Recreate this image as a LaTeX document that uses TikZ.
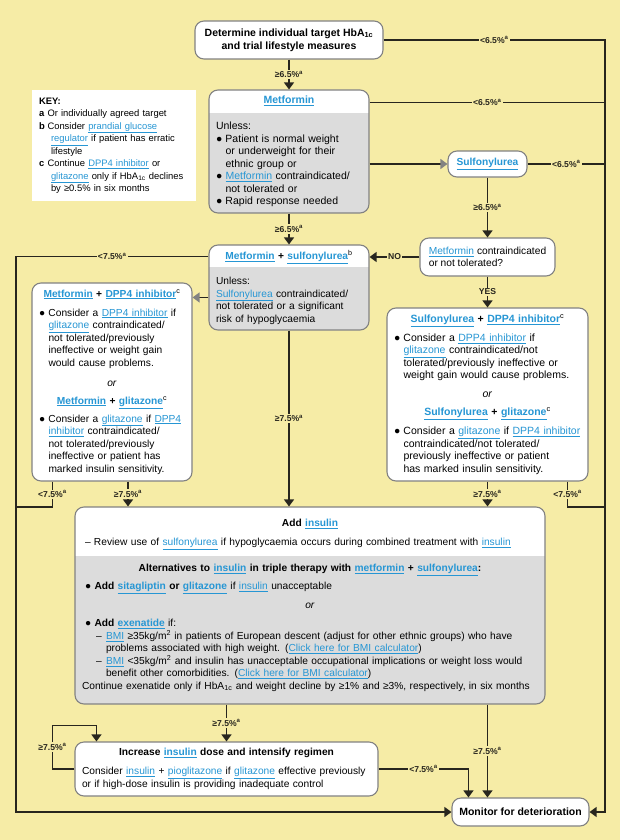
\documentclass[tikz,border=0pt]{standalone}
\usepackage{fontspec}
\setmainfont{Liberation Sans}
\usepackage{tikz}
\usetikzlibrary{shapes,backgrounds,arrows.meta,positioning}
\pgfdeclarelayer{background}
\pgfdeclarelayer{foreground}
\pgfsetlayers{background,main,foreground}
\definecolor{bg}{RGB}{246,236,166}
\definecolor{boxgray}{RGB}{220,220,220}
\definecolor{boxedge}{RGB}{130,130,130}
\definecolor{linkblue}{RGB}{38,150,212}
\definecolor{wire}{RGB}{40,38,30}
\newcommand{\bodyfont}{\fontsize{10.2}{12.5}\selectfont}
\newcommand{\boxfont}{\fontsize{10.5}{12.5}\selectfont}
\newcommand{\keyfont}{\fontsize{9.4}{12.5}\selectfont}
\newcommand{\headfont}{\bfseries\fontsize{10.5}{13}\selectfont}
\newcommand{\lblfont}{\bfseries\fontsize{8.6}{10}\selectfont}
\newcommand{\lnk}[1]{\textcolor{linkblue}{\underline{#1}}}
\newcommand{\bul}{\makebox[9.5pt][l]{●}}
\newcommand{\ind}{\hspace*{9.5pt}}
\newcommand{\keyl}[1]{\makebox[8.5pt][l]{\textbf{#1}}}
\newcommand{\gev}[1]{≥#1\%\textsuperscript{a}}
\newcommand{\ltv}[1]{<#1\%\textsuperscript{a}}
\tikzstyle{plainbox} = [draw=boxedge, line width=1.1pt, fill=white, rounded corners=9pt, inner xsep=7pt, inner ysep=3pt, align=left, font=\bodyfont]
\tikzstyle{keybox} = [fill=white, inner xsep=7pt, inner ysep=3pt, align=left, font=\keyfont]
\tikzstyle{lbl} = [fill=bg, inner sep=1.2pt, font=\lblfont]
\tikzstyle{arrow} = [draw, line width=1.2pt, color=wire, -{Triangle[width=10pt,length=7pt]}]
\tikzstyle{grayarrow} = [draw, line width=1.2pt, color=wire, -{Triangle[width=10pt,length=7pt,color=boxedge]}]
\tikzstyle{line} = [draw, line width=1.2pt, color=wire]
\tikzset{graybody/.style={path picture={\fill[boxgray,sharp corners] ([yshift=-#1]path picture bounding box.north west) rectangle (path picture bounding box.south east);}}}
\newcommand{\plainbox}[3]{node (#1) [plainbox,#2] {#3}}
\newcommand{\shadedbox}[4]{node (#1) [plainbox,graybody=#2,#3] {#4}}

\begin{document}
\begin{tikzpicture}[x=1pt,y=-1pt]
\useasboundingbox (0,0) rectangle (620,840);
\path (289,40) \plainbox{top}{font=\headfont, align=center, minimum width=188pt, minimum height=38pt}{Determine individual target HbA\textsubscript{1c}\\and trial lifestyle measures};
\path (top)+(0,111.5) \shadedbox{met}{23pt}{font=\boxfont, text width=146pt, minimum height=123pt}{%
{\centering\textbf{\lnk{Metformin}}\par}\vspace{13.5pt}
Unless:\\
\bul Patient is normal weight\\
\ind or underweight for their\\
\ind ethnic group or\\
\bul \lnk{Metformin} contraindicated/\\
\ind not tolerated or\\
\bul Rapid response needed};
\path (met)+(-175,-6) node (key) [keybox, text width=150pt, minimum height=111pt] {%
\textbf{KEY:}\\
\keyl{a}Or individually agreed target\\
\keyl{b}Consider \lnk{prandial glucose}\\
\hspace*{12pt}\lnk{regulator} if patient has erratic\\
\hspace*{12pt}lifestyle\\
\keyl{c}Continue \lnk{DPP4 inhibitor} or\\
\hspace*{12pt}\lnk{glitazone} only if HbA\textsubscript{1c} declines\\
\hspace*{12pt}by ≥0.5\% in six months};
\path (met)+(198.5,12.5) \plainbox{sul}{font=\bodyfont\bfseries, minimum width=79pt, minimum height=26pt}{\lnk{Sulfonylurea}};
\path (sul)+(0,93) \plainbox{q}{minimum width=135pt, minimum height=38pt}{\lnk{Metformin} contraindicated\\or not tolerated?};

\path (met)+(0,136) \shadedbox{ms}{22pt}{text width=146pt, minimum height=85pt}{%
{\centering\textbf{\lnk{Metformin} + \lnk{sulfonylurea}}\textsuperscript{b}\par}\vspace{12.5pt}
Unless:\\
\lnk{Sulfonylurea} contraindicated/\\
not tolerated or a significant\\
risk of hypoglycaemia};
\path (ms)+(-177,94.5) \plainbox{lb}{text width=146pt, minimum height=198pt}{%
{\centering\textbf{\lnk{Metformin} + \lnk{DPP4 inhibitor}}\textsuperscript{c}\par}\vspace{6.5pt}
\bul Consider a \lnk{DPP4 inhibitor} if\\
\ind\lnk{glitazone} contraindicated/\\
\ind not tolerated/previously\\
\ind ineffective or weight gain\\
\ind would cause problems.\par\vspace{7.5pt}
{\centering\textit{or}\par}\vspace{5.5pt}
{\centering\textbf{\lnk{Metformin} + \lnk{glitazone}}\textsuperscript{c}\par}\vspace{5.5pt}
\bul Consider a \lnk{glitazone} if \lnk{DPP4}\\
\ind\lnk{inhibitor} contraindicated/\\
\ind not tolerated/previously\\
\ind ineffective or patient has\\
\ind marked insulin sensitivity.};
\path (q)+(0,137.5) \plainbox{rb}{font=\boxfont, text width=187pt, minimum height=173pt}{%
{\centering\textbf{\lnk{Sulfonylurea} + \lnk{DPP4 inhibitor}}\textsuperscript{c}\par}\vspace{6.5pt}
\bul Consider a \lnk{DPP4 inhibitor} if\\
\ind\lnk{glitazone} contraindicated/not\\
\ind tolerated/previously ineffective or\\
\ind weight gain would cause problems.\par\vspace{6.5pt}
{\centering\textit{or}\par}\vspace{5.5pt}
{\centering\textbf{\lnk{Sulfonylurea} + \lnk{glitazone}}\textsuperscript{c}\par}\vspace{6.5pt}
\bul Consider a \lnk{glitazone} if \lnk{DPP4 inhibitor}\\
\ind contraindicated/not tolerated/\\
\ind previously ineffective or patient\\
\ind has marked insulin sensitivity.};

\path (ms)+(21,318) \shadedbox{ai}{49pt}{text width=456pt, minimum height=197pt}{%
{\centering\textbf{Add \lnk{insulin}}\par}\vspace{6.5pt}
\hspace*{3pt}\makebox[9pt][l]{–}Review use of \lnk{sulfonylurea} if hypoglycaemia occurs during combined treatment with \lnk{insulin}\par\vspace{13.5pt}
{\centering\textbf{Alternatives to \lnk{insulin} in triple therapy with \lnk{metformin} + \lnk{sulfonylurea}:}\par}\vspace{5.5pt}
\hspace*{3pt}\bul\textbf{Add \lnk{sitagliptin} or \lnk{glitazone}} if \lnk{insulin} unacceptable\par\vspace{6.5pt}
{\centering\textit{or}\par}\vspace{5.5pt}
\hspace*{3pt}\bul\textbf{Add \lnk{exenatide}} if:\\
\hspace*{14pt}\makebox[10pt][l]{–}\lnk{BMI} ≥35kg/m\textsuperscript{2} in patients of European descent (adjust for other ethnic groups) who have\\
\hspace*{24pt}problems associated with high weight. (\lnk{Click here for BMI calculator})\\
\hspace*{14pt}\makebox[10pt][l]{–}\lnk{BMI} <35kg/m\textsuperscript{2} and insulin has unacceptable occupational implications or weight loss would\\
\hspace*{24pt}benefit other comorbidities. (\lnk{Click here for BMI calculator})\\
Continue exenatide only if HbA\textsubscript{1c} and weight decline by ≥1\% and ≥3\%, respectively, in six months};
\path (ai)+(-83.5,163.5) \plainbox{inc}{text width=289pt, minimum height=54pt}{%
{\centering\textbf{Increase \lnk{insulin} dose and intensify regimen}\par}\vspace{6.5pt}
Consider \lnk{insulin} + \lnk{pioglitazone} if \lnk{glitazone} effective previously\\
or if high-dose insulin is providing inadequate control};
\path (inc)+(294,43) \plainbox{mon}{font=\headfont, minimum width=137pt, minimum height=28pt}{Monitor for deterioration};

\coordinate (rr) at (605,507);
\coordinate (ll) at (16,507);
\path (met.north east)+(0,13) coordinate (m1);
\path (ms.north west)+(0,12) coordinate (s1);
\path (ms.north west)+(0,53) coordinate (s2);
\path (lb.south west)+(21,0) coordinate (b1);
\path (lb.south)+(16,0) coordinate (b2);
\path (rb.south east)+(-21,0) coordinate (b3);
\path (inc.north west)+(-22,-16) coordinate (lp);
\path (inc.north west)+(22,0) coordinate (i1);
\path (mon.north west)+(17,0) coordinate (m4);
\path (mon.north west)+(36,0) coordinate (m5);

\path [arrow] (top.south) -- node[lbl] (l1) {\gev{6.5}} (met.north);
\path [arrow] (top.east) -- node[lbl] (l2) {\ltv{6.5}} (top.east -| rr) |- (mon.east);
\path [line] (m1) -- node[lbl] (l3) {\ltv{6.5}} (m1 -| rr);
\path [grayarrow] (met.east |- sul.west) -- (sul.west);
\path [line] (sul.east) -- node[lbl] (l4) {\ltv{6.5}} (sul.east -| rr);
\path [arrow] (sul.south) -- node[lbl] (l5) {\gev{6.5}} (q.north);
\path [arrow] (met.south) -- node[lbl] (l6) {\gev{6.5}} (ms.north);
\path [arrow] (q.west) -- node[lbl] (l7) {NO} (q.west -| ms.east);
\path [arrow] (q.south) -- node[lbl] (l8) {YES} (rb.north);

\path [arrow] (s1) -- node[lbl] (l9) {\ltv{7.5}} (s1 -| ll) |- (mon.west);
\path [grayarrow] (s2) -- (s2 -| lb.east);
\path [arrow] (ms.south) -- node[lbl] (l10) {\gev{7.5}} (ms.south |- ai.north);
\path [line] (b1) -- node[lbl] (l11) {\ltv{7.5}} (b1 |- ll) -- (ll);
\path [arrow] (b2) -- node[lbl] (l12) {\gev{7.5}} (b2 |- ai.north);
\path [arrow] (rb.south) -- node[lbl] (l13) {\gev{7.5}} (rb.south |- ai.north);
\path [line] (b3) -- node[lbl] (l14) {\ltv{7.5}} (b3 |- rr) -- (rr);

\path [arrow] (ai.south -| inc.north) -- node[lbl] (l15) {\gev{7.5}} (inc.north);
\path [arrow] (inc.west) -| node[lbl,pos=0.75] (l16) {\gev{7.5}} (lp) -| (i1);
\path [arrow] (inc.east) -| node[lbl,pos=0.25] (l17) {\ltv{7.5}} (m4);
\path [arrow] (m5 |- ai.south) -- node[lbl] (l18) {\gev{7.5}} (m5);

\begin{pgfonlayer}{background}
\fill[bg] (0,0) rectangle (620,840);
\end{pgfonlayer}
\end{tikzpicture}
\end{document}
